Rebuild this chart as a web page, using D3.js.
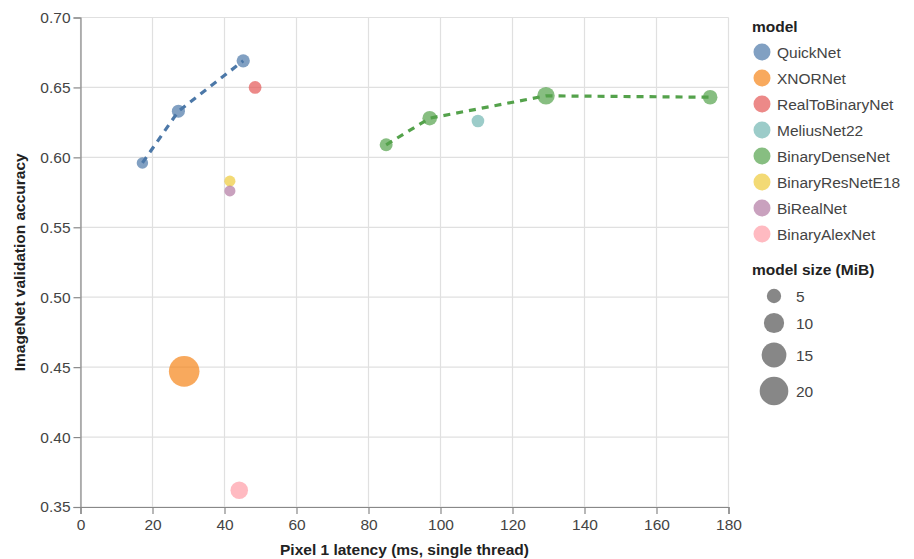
<!DOCTYPE html>
<html>
<head>
<meta charset="utf-8">
<script src="https://cdn.jsdelivr.net/npm/d3@7"></script>
<style>
  body { margin: 0; background: #fff; }
  text { font-family: "Liberation Sans", Arial, sans-serif; }
</style>
</head>
<body>
<svg id="chart" width="914" height="559"></svg>
<script>
// model names, in legend order
var models = ["QuickNet", "XNORNet", "RealToBinaryNet", "MeliusNet22",
              "BinaryDenseNet", "BinaryResNetE18", "BiRealNet", "BinaryAlexNet"];
var colors = ["#4c78a8", "#f58518", "#e45756", "#72b7b2",
              "#54a24b", "#eeca3b", "#b279a2", "#ff9da6"];

// one entry per point: model, latency (ms), accuracy, size (MiB)
var pointModel   = ["QuickNet", "QuickNet", "QuickNet", "XNORNet", "RealToBinaryNet", "MeliusNet22",
                    "BinaryDenseNet", "BinaryDenseNet", "BinaryDenseNet", "BinaryDenseNet",
                    "BinaryResNetE18", "BiRealNet", "BinaryAlexNet"];
var pointLatency = [17.2, 27.2, 45.2, 28.8, 48.5, 110.4, 84.9, 97.0, 129.3, 174.9, 41.5, 41.5, 44.1];
var pointAcc     = [0.596, 0.633, 0.669, 0.447, 0.650, 0.626, 0.609, 0.628, 0.644, 0.643, 0.583, 0.576, 0.362];
var pointSize    = [3.2, 4.2, 4.3, 22.8, 4.0, 3.9, 4.1, 5.2, 7.5, 5.2, 3.0, 3.0, 7.5];

// models that get a dashed trend line
var lineModels = ["QuickNet", "BinaryDenseNet"];

var xTicks = [0, 20, 40, 60, 80, 100, 120, 140, 160, 180];
var yTicks = [0.35, 0.40, 0.45, 0.50, 0.55, 0.60, 0.65, 0.70];
var sizeLegendValues = [5, 10, 15, 20];

(function() {
    var svg = d3.select("#chart"),
        marginLeft = 80.5, marginTop = 17.5,
        width = 648, height = 489.5;

    var x = d3.scaleLinear().domain([0, 180]).range([0, width]);
    var y = d3.scaleLinear().domain([0.35, 0.70]).range([height, 0]);
    var color = d3.scaleOrdinal().domain(models).range(colors);
    // area proportional to size, zero based
    var area = d3.scaleLinear().domain([0, 20]).range([0, 820]);
    function radius(v) { return Math.sqrt(area(v)) / 2; }

    var points = pointModel.map(function(m, i) {
        return {model: m, lat: pointLatency[i], acc: pointAcc[i], size: pointSize[i]};
    });

    var g = svg.append("g").attr("transform", "translate(" + marginLeft + "," + marginTop + ")");

    // grid
    g.append("g").selectAll("line").data(xTicks).enter().append("line")
        .attr("x1", function(d) { return x(d); }).attr("x2", function(d) { return x(d); })
        .attr("y1", 0).attr("y2", height)
        .attr("stroke", "#e0e0e0").attr("stroke-width", 1.2);
    g.append("g").selectAll("line").data(yTicks).enter().append("line")
        .attr("y1", function(d) { return y(d); }).attr("y2", function(d) { return y(d); })
        .attr("x1", 0).attr("x2", width)
        .attr("stroke", "#e0e0e0").attr("stroke-width", 1.2);

    // axes
    var xAxis = g.append("g").attr("transform", "translate(0," + height + ")")
        .call(d3.axisBottom(x).tickValues(xTicks).tickSizeOuter(0).tickSize(7).tickPadding(5));
    var yAxis = g.append("g")
        .call(d3.axisLeft(y).tickValues(yTicks).tickFormat(d3.format(".2f")).tickSizeOuter(0).tickSize(7).tickPadding(3));
    [xAxis, yAxis].forEach(function(a) {
        a.select(".domain").attr("stroke", "#888").attr("stroke-width", 1.2);
        a.selectAll(".tick line").attr("stroke", "#888").attr("stroke-width", 1.2);
        a.selectAll(".tick text").attr("fill", "#444").style("font-size", "15.5px")
            .style("font-family", "'Liberation Sans', Arial, sans-serif");
    });

    // points
    g.append("g").selectAll("circle").data(points).enter().append("circle")
        .attr("cx", function(d) { return x(d.lat); })
        .attr("cy", function(d) { return y(d.acc); })
        .attr("r", function(d) { return radius(d.size); })
        .attr("fill", function(d) { return color(d.model); })
        .attr("opacity", 0.7);

    // dashed lines
    var line = d3.line()
        .x(function(d) { return x(d.lat); })
        .y(function(d) { return y(d.acc); });
    lineModels.forEach(function(m) {
        var pts = points.filter(function(d) { return d.model == m; })
            .sort(function(a, b) { return a.lat - b.lat; });
        g.append("path").datum(pts)
            .attr("d", line)
            .attr("fill", "none")
            .attr("stroke", color(m))
            .attr("stroke-width", 3.2)
            .attr("stroke-dasharray", "7,6");
    });

    // axis titles
    svg.append("text")
        .attr("x", marginLeft + width / 2).attr("y", 555)
        .attr("text-anchor", "middle")
        .style("font-size", "15.5px").style("font-weight", "bold").attr("fill", "#222")
        .text("Pixel 1 latency (ms, single thread)");
    svg.append("text")
        .attr("transform", "translate(25," + (marginTop + height / 2) + ") rotate(-90)")
        .attr("text-anchor", "middle")
        .style("font-size", "15.5px").style("font-weight", "bold").attr("fill", "#222")
        .text("ImageNet validation accuracy");

    // colour legend
    var legend = svg.append("g").attr("transform", "translate(752,0)");
    legend.append("text").attr("x", 0).attr("y", 32)
        .style("font-size", "15.5px").style("font-weight", "bold").attr("fill", "#222")
        .text("model");
    var rows = legend.selectAll("g.row").data(models).enter().append("g")
        .attr("class", "row")
        .attr("transform", function(d, i) { return "translate(0," + (52 + i * 26) + ")"; });
    rows.append("circle").attr("cx", 10).attr("cy", 0).attr("r", 8.5)
        .attr("fill", function(d) { return color(d); }).attr("opacity", 0.7);
    rows.append("text").attr("x", 25).attr("y", 5.5)
        .style("font-size", "15.5px").attr("fill", "#444")
        .text(function(d) { return d; });

    // size legend
    var sizeYs = [296, 323, 355, 391];
    legend.append("text").attr("x", 0).attr("y", 275)
        .style("font-size", "15.5px").style("font-weight", "bold").attr("fill", "#222")
        .text("model size (MiB)");
    var srows = legend.selectAll("g.srow").data(sizeLegendValues).enter().append("g")
        .attr("class", "srow")
        .attr("transform", function(d, i) { return "translate(0," + sizeYs[i] + ")"; });
    srows.append("circle").attr("cx", 22).attr("cy", 0)
        .attr("r", function(d) { return radius(d); })
        .attr("fill", "#7a7a7a").attr("opacity", 0.9);
    srows.append("text").attr("x", 44).attr("y", 5.5)
        .style("font-size", "15.5px").attr("fill", "#444")
        .text(function(d) { return d; });
})();
</script>
</body>
</html>
